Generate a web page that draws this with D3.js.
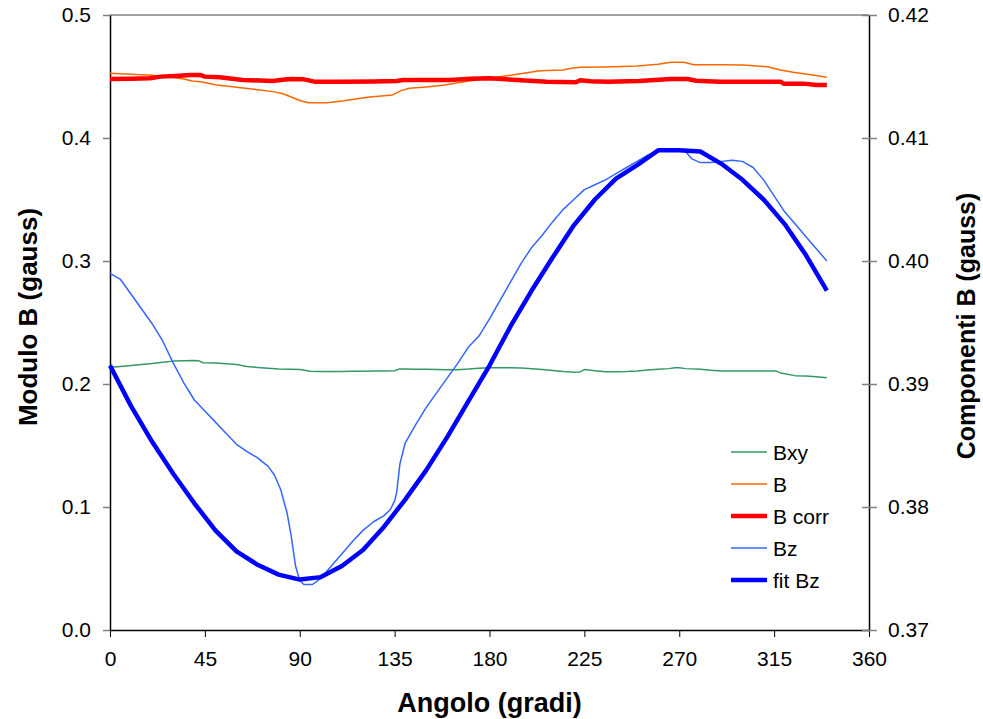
<!DOCTYPE html>
<html>
<head>
<meta charset="utf-8">
<script src="https://cdn.jsdelivr.net/npm/d3@7"></script>
<style>
  body { margin: 0; background: #fff; }
  text { font-family: "Liberation Sans", Arial, sans-serif; }
</style>
</head>
<body>
<svg id="grafico" width="983" height="719"></svg>
<script>
// angoli (gradi) e valori
const angoliBxy = [0, 5, 10, 15, 20, 25, 30, 35, 40, 42, 44, 50, 55, 60, 65, 70, 75, 80, 85, 90, 95, 100, 105, 110, 115, 120, 125, 130, 135, 137, 140, 145, 150, 155, 160, 165, 170, 175, 180, 185, 190, 195, 200, 205, 210, 215, 220, 223, 225, 230, 235, 240, 245, 250, 255, 260, 265, 268, 270, 273, 280, 285, 290, 300, 310, 316, 318, 325, 330, 335, 340];
const valoriBxy = [0.2136, 0.2143, 0.2150, 0.2158, 0.2166, 0.2176, 0.2186, 0.2189, 0.2191, 0.2190, 0.2173, 0.2170, 0.2165, 0.2158, 0.2143, 0.2135, 0.2128, 0.2122, 0.2120, 0.2118, 0.2103, 0.2101, 0.2101, 0.2102, 0.2103, 0.2104, 0.2105, 0.2106, 0.2108, 0.2121, 0.2121, 0.2120, 0.2119, 0.2117, 0.2115, 0.2116, 0.2121, 0.2128, 0.2132, 0.2133, 0.2133, 0.2130, 0.2124, 0.2117, 0.2110, 0.2102, 0.2096, 0.2098, 0.2117, 0.2108, 0.2099, 0.2100, 0.2102, 0.2106, 0.2113, 0.2120, 0.2125, 0.2133, 0.2132, 0.2125, 0.2120, 0.2112, 0.2106, 0.2106, 0.2106, 0.2105, 0.2090, 0.2068, 0.2065, 0.2058, 0.2051];

const angoliB = [0, 10, 20, 30, 35, 39, 43, 50, 60, 70, 78, 82, 86, 90, 94, 103, 111, 122, 134, 138, 142, 150, 158, 168, 180, 190, 204, 215, 218, 223, 235, 250, 260, 266, 272, 277, 290, 300, 312, 318, 324, 330, 340];
const valoriB = [0.4526, 0.4518, 0.4510, 0.4492, 0.4480, 0.4463, 0.4458, 0.4433, 0.4412, 0.4392, 0.4375, 0.4360, 0.4333, 0.4305, 0.4287, 0.4287, 0.4303, 0.4331, 0.4350, 0.4385, 0.4404, 0.4415, 0.4428, 0.4458, 0.4485, 0.4510, 0.4547, 0.4553, 0.4565, 0.4575, 0.4578, 0.4585, 0.4600, 0.4615, 0.4615, 0.4596, 0.4595, 0.4593, 0.4580, 0.4553, 0.4534, 0.4520, 0.4493];

const angoliBcorr = [0, 10, 19, 24, 33, 38, 43, 45, 52, 63, 77, 83, 86, 92, 97, 110, 125, 136, 139, 161, 171, 180, 191, 207, 221, 223, 228, 236, 251, 266, 274, 278, 289, 318, 319.5, 329, 335, 340];
const valoriBcorr = [0.4480, 0.4482, 0.4485, 0.4499, 0.4507, 0.4512, 0.4512, 0.4499, 0.4493, 0.4472, 0.4463, 0.4475, 0.4480, 0.4477, 0.4458, 0.4458, 0.4460, 0.4463, 0.4472, 0.4472, 0.4482, 0.4485, 0.4474, 0.4458, 0.4453, 0.4469, 0.4462, 0.4458, 0.4463, 0.4480, 0.4480, 0.4466, 0.4458, 0.4458, 0.4442, 0.4442, 0.4431, 0.4431];

const angoliBz = [0, 5, 10, 15, 20, 25, 30, 35, 40, 45, 50, 55, 60, 65, 70, 75, 78, 81, 84, 86, 88, 90, 92, 96, 100, 105, 110, 115, 120, 125, 130, 133, 135, 136, 137.5, 140, 145, 150, 155, 160, 165, 170, 175, 180, 185, 190, 195, 200, 205, 210, 215, 220, 225, 230, 235, 240, 245, 250, 255, 260, 265, 270, 273, 276, 280, 285, 290, 295, 300, 305, 310, 315, 320, 325, 330, 335, 340];
const valoriBz = [0.3990, 0.3985, 0.3973, 0.3961, 0.3949, 0.3935, 0.3917, 0.3901, 0.3887, 0.3878, 0.3869, 0.3860, 0.3851, 0.3845, 0.3840, 0.3833, 0.3826, 0.3814, 0.3795, 0.3776, 0.3752, 0.3740, 0.3737, 0.3737, 0.3742, 0.3752, 0.3762, 0.3772, 0.3781, 0.3788, 0.3793, 0.3798, 0.3805, 0.3812, 0.3835, 0.3852, 0.3867, 0.3881, 0.3893, 0.3905, 0.3917, 0.3930, 0.3939, 0.3953, 0.3968, 0.3983, 0.3998, 0.4011, 0.4021, 0.4032, 0.4042, 0.4050, 0.4058, 0.4062, 0.4066, 0.4071, 0.4076, 0.4081, 0.4086, 0.4089, 0.4091, 0.4091, 0.4089, 0.4083, 0.4080, 0.4080, 0.4081, 0.4082, 0.4081, 0.4076, 0.4066, 0.4053, 0.4040, 0.4030, 0.4020, 0.4010, 0.4000];

const angoliFit = [0, 10, 20, 30, 40, 50, 60, 70, 80, 90, 100, 110, 120, 130, 140, 150, 160, 170, 180, 190, 200, 210, 220, 230, 240, 250, 260, 270, 280, 290, 300, 310, 320, 330, 340];
const valoriFit = [0.3915, 0.3882, 0.3853, 0.3827, 0.3803, 0.3781, 0.3764, 0.3753, 0.3745, 0.3741, 0.3743, 0.3752, 0.3765, 0.3784, 0.3806, 0.3830, 0.3857, 0.3886, 0.3915, 0.3947, 0.3976, 0.4003, 0.4029, 0.4050, 0.4067, 0.4078, 0.4090, 0.4090, 0.4089, 0.4079, 0.4066, 0.4050, 0.4030, 0.4005, 0.3976];

const tickX = [0, 45, 90, 135, 180, 225, 270, 315, 360];
const tickSx = [0, 0.1, 0.2, 0.3, 0.4, 0.5];
const tickDx = [0.37, 0.38, 0.39, 0.40, 0.41, 0.42];

const serie = [
    { nome: "Bxy", angoli: angoliBxy, valori: valoriBxy, asse: "sx", colore: "#339966", spessore: 1.5 },
    { nome: "B", angoli: angoliB, valori: valoriB, asse: "sx", colore: "#ff6600", spessore: 1.5 },
    { nome: "B corr", angoli: angoliBcorr, valori: valoriBcorr, asse: "sx", colore: "#ff0000", spessore: 4.5 },
    { nome: "Bz", angoli: angoliBz, valori: valoriBz, asse: "dx", colore: "#3366ff", spessore: 1.5 },
    { nome: "fit Bz", angoli: angoliFit, valori: valoriFit, asse: "dx", colore: "#0000ff", spessore: 4.5 }
];

const svg = d3.select("#grafico");
const sinistra = 110, destra = 869, alto = 15, basso = 630;

const x = d3.scaleLinear().domain([0, 360]).range([sinistra, destra]);
const ySx = d3.scaleLinear().domain([0, 0.5]).range([basso, alto]);
const yDx = d3.scaleLinear().domain([0.37, 0.42]).range([basso, alto]);

// bordo superiore grigio
svg.append("line")
    .attr("x1", sinistra).attr("x2", destra)
    .attr("y1", alto).attr("y2", alto)
    .attr("stroke", "#808080").attr("stroke-width", 1.5);

// assi
const asseX = svg.append("g")
    .attr("transform", `translate(0,${basso})`)
    .call(d3.axisBottom(x).tickValues(tickX).tickSize(7).tickSizeOuter(0).tickPadding(14));
asseX.select(".domain").attr("stroke", "#000").attr("stroke-width", 1.5);
asseX.selectAll(".tick line").attr("stroke", "#000");
asseX.selectAll("text").attr("font-size", 21).attr("fill", "#000");

const asseSx = svg.append("g")
    .attr("transform", `translate(${sinistra},0)`)
    .call(d3.axisLeft(ySx).tickValues(tickSx).tickFormat(d3.format(".1f")).tickSize(7).tickSizeOuter(0).tickPadding(12));
asseSx.select(".domain").attr("stroke", "#000").attr("stroke-width", 1.5);
asseSx.selectAll(".tick line").attr("stroke", "#808080").attr("stroke-width", 1.5);
asseSx.selectAll("text").attr("font-size", 21).attr("fill", "#000");

const asseDx = svg.append("g")
    .attr("transform", `translate(${destra},0)`)
    .call(d3.axisRight(yDx).tickValues(tickDx).tickFormat(d3.format(".2f")).tickSize(8).tickSizeOuter(0).tickPadding(11));
asseDx.select(".domain").attr("stroke", "#000").attr("stroke-width", 1.5);
asseDx.selectAll(".tick line").attr("x1", -7).attr("stroke", "#808080").attr("stroke-width", 1.5);
asseDx.selectAll("text").attr("font-size", 21).attr("fill", "#000");

// linee
serie.forEach(s => {
    const y = s.asse === "sx" ? ySx : yDx;
    const linea = d3.line()
        .x(i => x(s.angoli[i]))
        .y(i => y(s.valori[i]));
    svg.append("path")
        .attr("d", linea(d3.range(s.valori.length)))
        .attr("fill", "none")
        .attr("stroke", s.colore)
        .attr("stroke-width", s.spessore)
        .attr("stroke-linejoin", "round");
});

// titoli degli assi
svg.append("text")
    .attr("x", (sinistra + destra) / 2).attr("y", 712)
    .attr("text-anchor", "middle")
    .attr("font-size", 27).attr("font-weight", "bold")
    .text("Angolo (gradi)");

svg.append("text")
    .attr("transform", "translate(37,317) rotate(-90)")
    .attr("text-anchor", "middle")
    .attr("font-size", 26).attr("font-weight", "bold")
    .text("Modulo B (gauss)");

svg.append("text")
    .attr("transform", "translate(975,326) rotate(-90)")
    .attr("text-anchor", "middle")
    .attr("font-size", 25).attr("font-weight", "bold")
    .text("Componenti B (gauss)");

// legenda
const legenda = svg.append("g").attr("transform", "translate(731,452)");
serie.forEach((s, i) => {
    const riga = legenda.append("g").attr("transform", `translate(0,${i * 32})`);
    riga.append("line")
        .attr("x1", 0).attr("x2", 36)
        .attr("stroke", s.colore)
        .attr("stroke-width", s.spessore);
    riga.append("text")
        .attr("x", 42).attr("y", 7.5)
        .attr("font-size", 21)
        .text(s.nome);
});
</script>
</body>
</html>
